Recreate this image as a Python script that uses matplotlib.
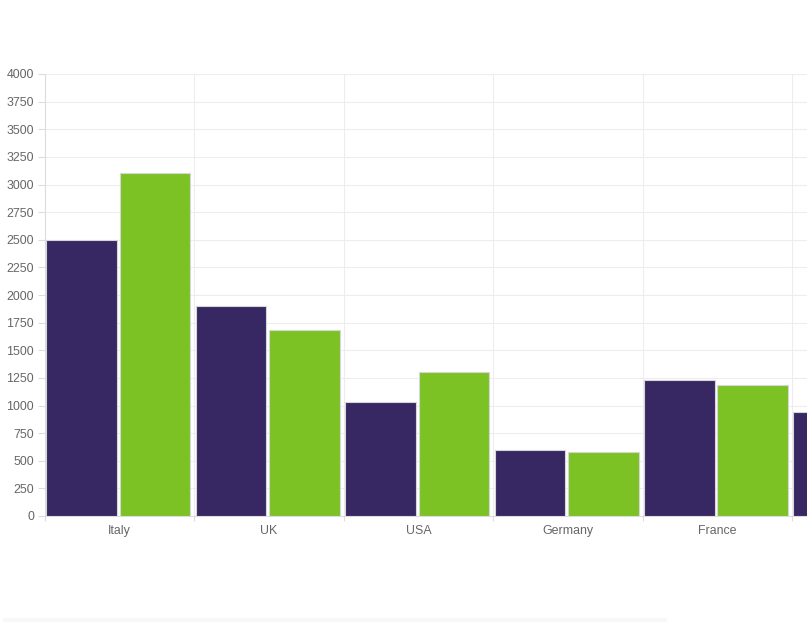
import matplotlib.pyplot as plt
import numpy as np

plt.rcParams['font.family'] = ['Liberation Sans', 'DejaVu Sans']

countries = ['Italy', 'UK', 'USA', 'Germany', 'France', 'Spain']
series_a = [2500, 1900, 1030, 600, 1230, 940]
series_b = [3100, 1680, 1300, 580, 1190, 900]
y_ticks = list(range(0, 4001, 250))

purple = '#372763'
green = '#7dc225'
grid_col = '#ededed'
text_col = '#666666'

fig = plt.figure(figsize=(8.07, 6.25), dpi=100)
# axes extends off the right edge, like the cropped original
ax = fig.add_axes([45 / 807, 109 / 625, 762 / 807, 442 / 625])

x = np.arange(len(countries))
ax.bar(x - 0.254, series_a, width=0.472, color=purple,
       edgecolor='#d6d6d6', linewidth=0.8, zorder=3)
ax.bar(x + 0.237, series_b, width=0.472, color=green,
       edgecolor='#d6d6d6', linewidth=0.8, zorder=3)

ax.set_yticks(y_ticks)
ax.set_yticklabels([str(v) for v in y_ticks])
ax.set_xticks(x)
ax.set_xticklabels(countries)
ax.set_xticks(np.arange(len(countries) + 1) - 0.5, minor=True)

ax.set_xlim(-0.5, -0.5 + 762 / 149.4)
ax.set_ylim(0, 4000)

ax.tick_params(axis='y', length=5, width=0.8, color='#dcdcdc',
               labelsize=8.9, labelcolor=text_col, pad=3)
ax.tick_params(axis='x', which='major', length=0, labelsize=8.9,
               labelcolor=text_col, pad=6.5)
ax.tick_params(axis='x', which='minor', length=3.6, width=0.8, color='#dcdcdc')

ax.grid(axis='y', color=grid_col, linewidth=0.8, zorder=0)
ax.grid(axis='x', which='minor', color=grid_col, linewidth=0.8, zorder=0)
ax.grid(axis='x', which='major', visible=False)

for side in ['top', 'right']:
    ax.spines[side].set_visible(False)
for side in ['left', 'bottom']:
    ax.spines[side].set_color('#dcdcdc')
    ax.spines[side].set_linewidth(0.8)

# faint band along the bottom edge
fig.add_artist(plt.Line2D([5 / 807, 665 / 807], [5 / 625, 5 / 625],
                          color='#f8f8f8', linewidth=3))

fig.savefig('out.png', dpi=100)
